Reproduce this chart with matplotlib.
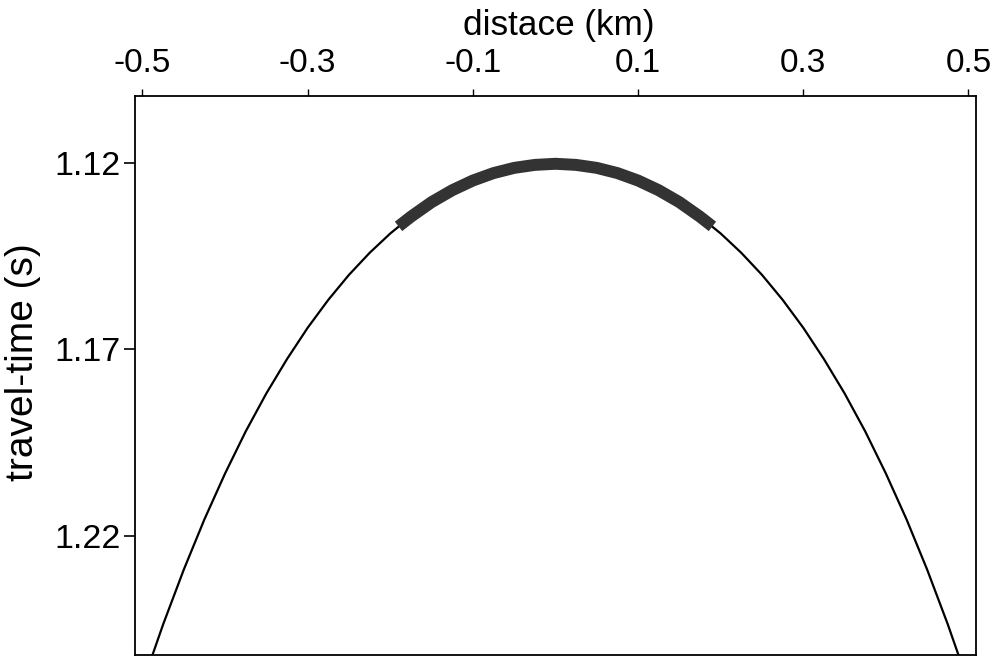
import matplotlib.pyplot as plt

plt.rcParams['font.family'] = ['Liberation Sans', 'DejaVu Sans']

# travel-time curve (km, s)
distance = [-0.5, -0.475, -0.45, -0.425, -0.4, -0.375, -0.35, -0.325, -0.3, -0.275,
            -0.25, -0.225, -0.2, -0.175, -0.15, -0.125, -0.1, -0.075, -0.05, -0.025,
            0.0, 0.025, 0.05, 0.075, 0.1, 0.125, 0.15, 0.175, 0.2, 0.225,
            0.25, 0.275, 0.3, 0.325, 0.35, 0.375, 0.4, 0.425, 0.45, 0.475, 0.5]
travel_time = [1.2597, 1.2438, 1.2291, 1.2156, 1.2033, 1.1920, 1.1818, 1.1726, 1.1642, 1.1567,
               1.1500, 1.1441, 1.1389, 1.1344, 1.1305, 1.1273, 1.1247, 1.1227, 1.1213, 1.1205,
               1.1202, 1.1205, 1.1213, 1.1227, 1.1247, 1.1273, 1.1305, 1.1344, 1.1389, 1.1441,
               1.1500, 1.1567, 1.1642, 1.1726, 1.1818, 1.1920, 1.2033, 1.2156, 1.2291, 1.2438, 1.2597]

# thick (picked) part near the apex
picked_distance = [-0.19, -0.175, -0.15, -0.125, -0.1, -0.075, -0.05, -0.025, 0.0,
                   0.025, 0.05, 0.075, 0.1, 0.125, 0.15, 0.175, 0.19]
picked_time = [1.1370, 1.1344, 1.1305, 1.1273, 1.1247, 1.1227, 1.1213, 1.1205, 1.1202,
               1.1205, 1.1213, 1.1227, 1.1247, 1.1273, 1.1305, 1.1344, 1.1370]

x_ticks = [-0.5, -0.3, -0.1, 0.1, 0.3, 0.5]
x_tick_labels = ['-0.5', '-0.3', '-0.1', '0.1', '0.3', '0.5']
y_ticks = [1.12, 1.17, 1.22]
y_tick_labels = ['1.12', '1.17', '1.22']

fig = plt.figure(figsize=(9.96, 6.59), dpi=100)
ax = fig.add_axes([0.1355, 0.0061, 0.8444, 0.8483])

ax.plot(distance, travel_time, color='black', lw=1.6)
ax.plot(picked_distance, picked_time, color='#333333', lw=8.6, solid_capstyle='butt')

ax.set_xlim(-0.5091, 0.5091)
ax.set_ylim(1.2520, 1.1020)

ax.xaxis.tick_top()
ax.xaxis.set_label_position('top')
ax.set_xticks(x_ticks)
ax.set_xticklabels(x_tick_labels)
ax.set_yticks(y_ticks)
ax.set_yticklabels(y_tick_labels)
ax.tick_params(axis='x', direction='out', length=5, width=1, pad=7, labelsize=24)
ax.tick_params(axis='y', direction='out', length=8, width=1.2, pad=2, labelsize=24.5)
for sp in ax.spines.values():
    sp.set_linewidth(1.3)

ax.set_xlabel('distace (km)', fontsize=25.3)
ax.xaxis.set_label_coords(0.504, 1.109)
ax.set_ylabel('travel-time (s)', fontsize=28)
ax.yaxis.set_label_coords(-0.112, 0.524)

fig.savefig('out.png', dpi=100)
